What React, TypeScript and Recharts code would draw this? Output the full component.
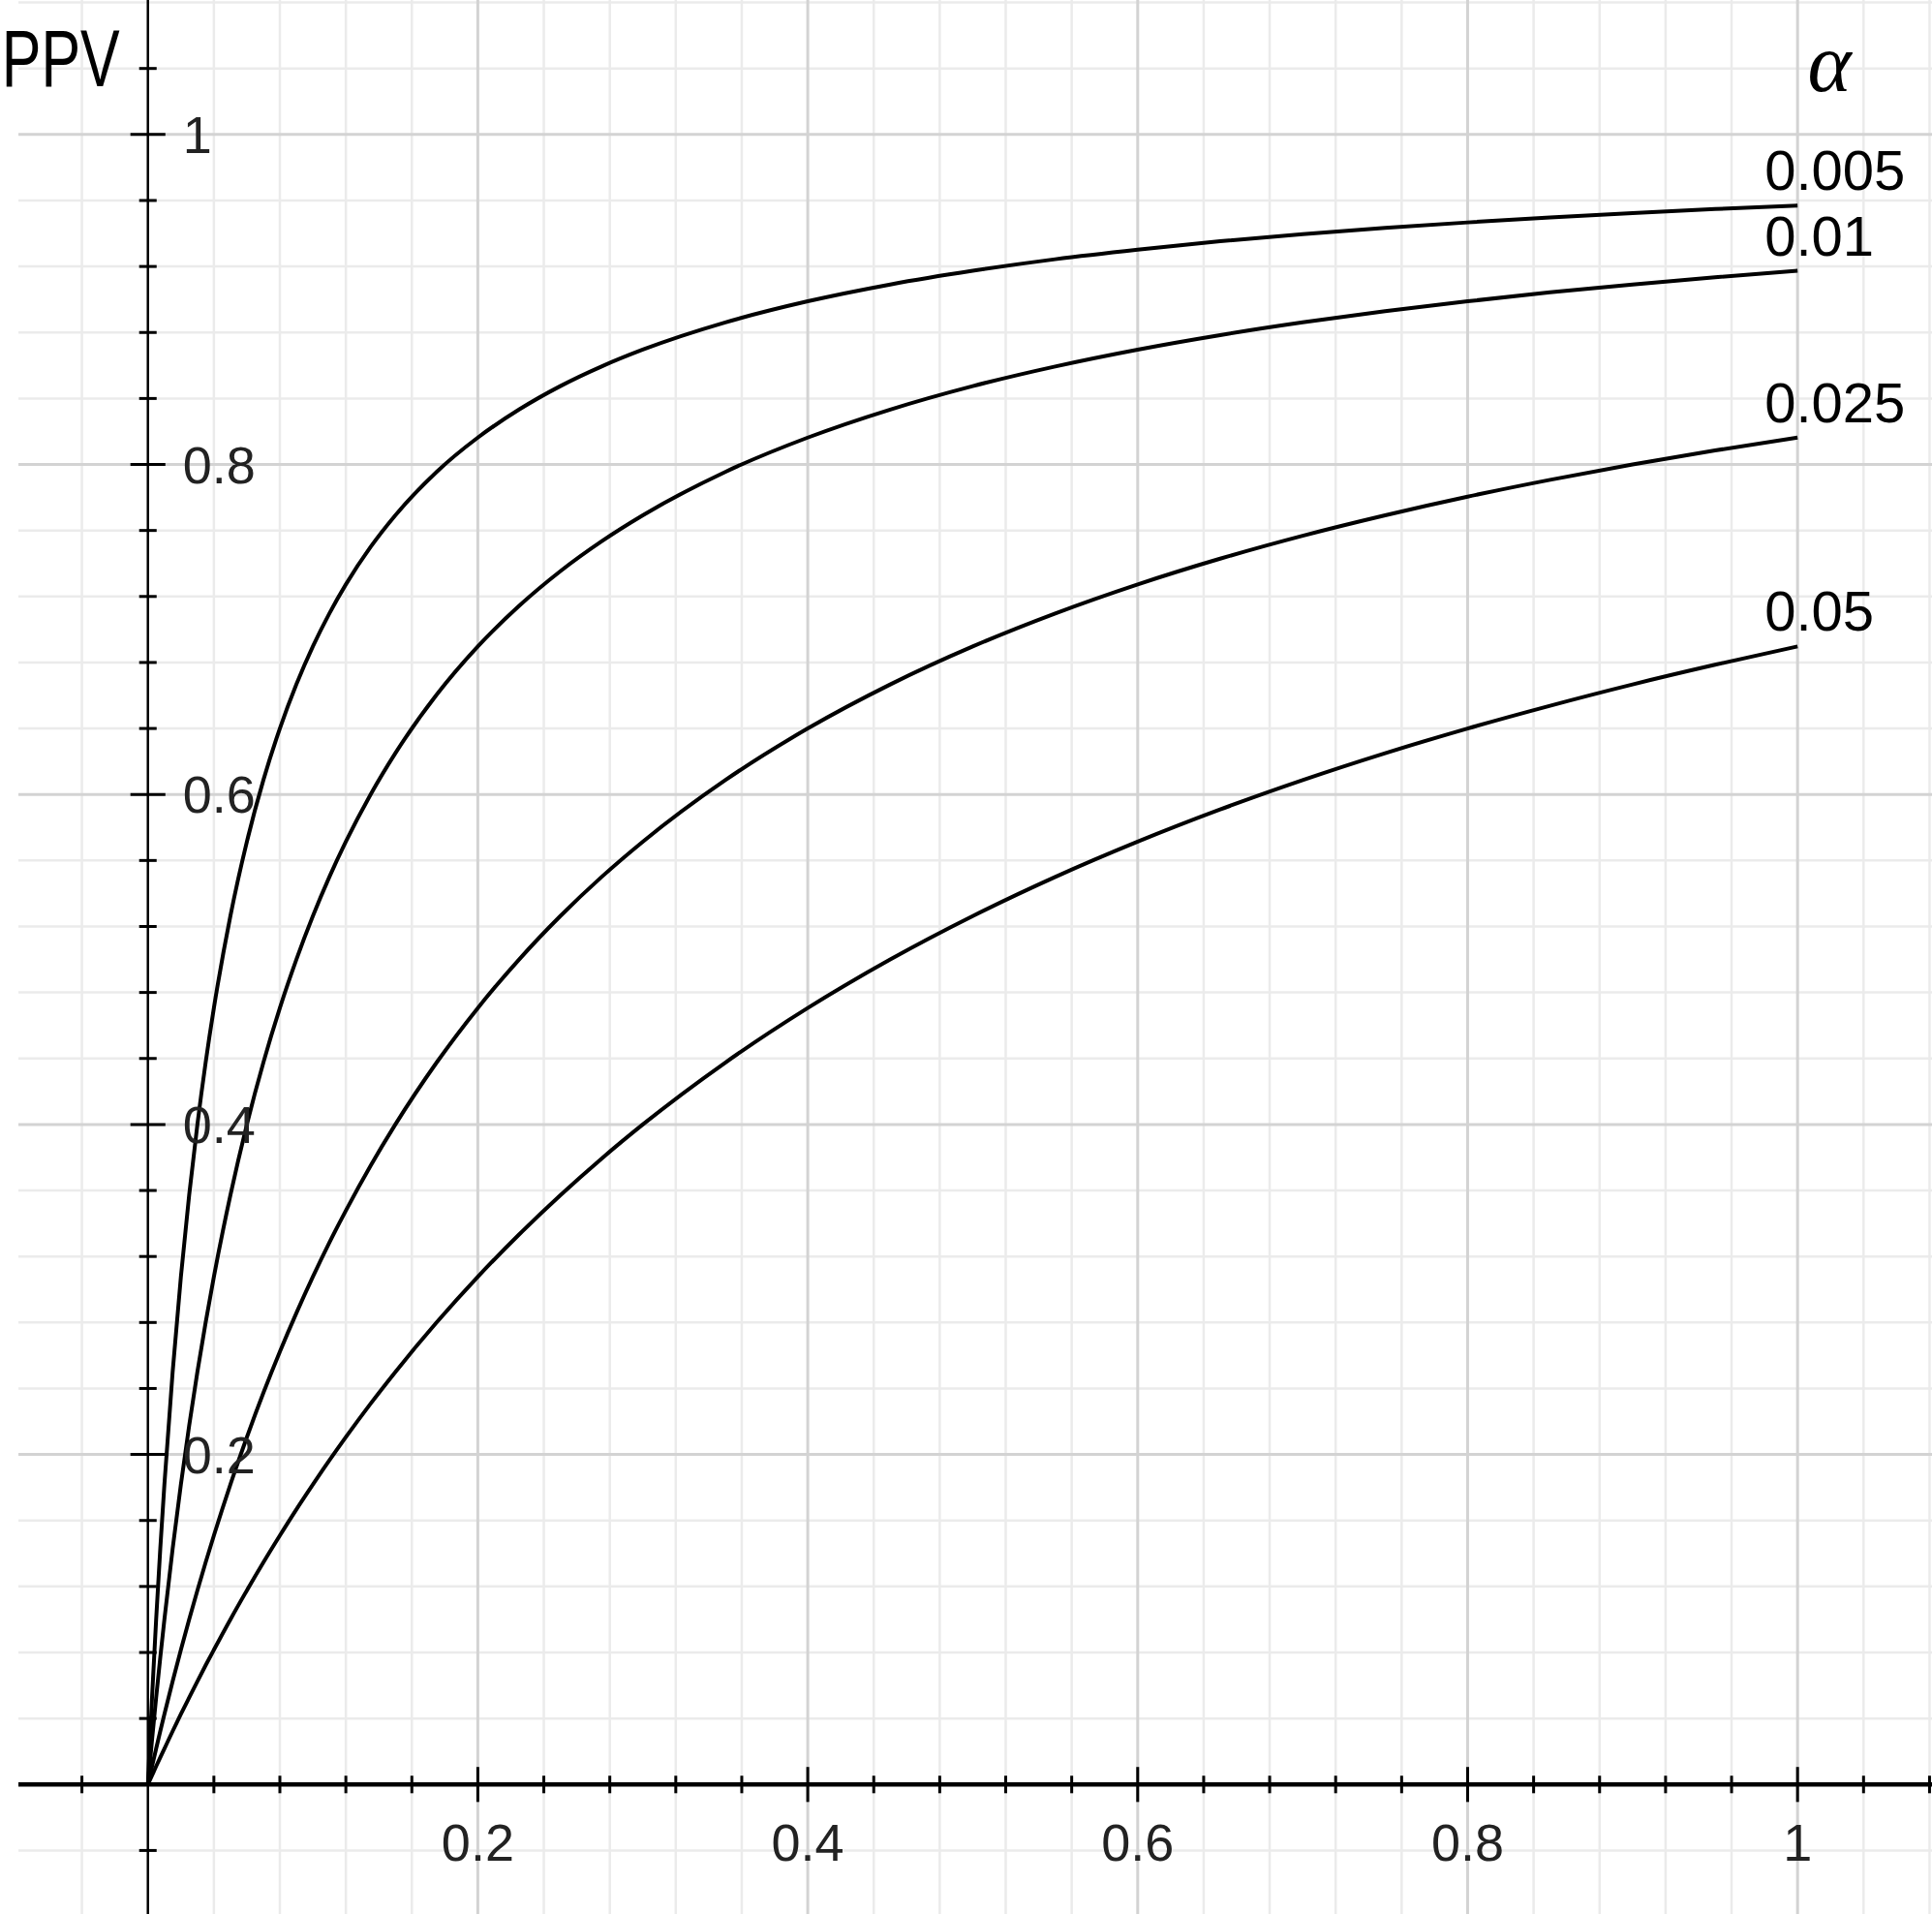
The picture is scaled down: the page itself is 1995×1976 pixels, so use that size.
import React from "react";
import { LineChart, Line, XAxis, YAxis, ReferenceLine, ReferenceDot } from "recharts";

const POWER = [
  0, 0.0025, 0.005, 0.0075, 0.01, 0.015, 0.02, 0.025, 0.03, 0.035, 0.04, 0.05, 0.06, 0.07, 0.08, 0.09, 0.1, 0.11,
  0.12, 0.135, 0.15, 0.175, 0.2, 0.225, 0.25, 0.275, 0.3, 0.35, 0.4, 0.45, 0.5, 0.55, 0.6, 0.65, 0.7, 0.75, 0.8,
  0.85, 0.9, 0.95, 1,
];

// PPV for each alpha level
const PPV_A005 = [
  0, 0.0526, 0.1, 0.1429, 0.1818, 0.25, 0.3077, 0.3571, 0.4, 0.4375, 0.4706, 0.5263, 0.5714, 0.6087, 0.64, 0.6667,
  0.6897, 0.7097, 0.7273, 0.75, 0.7692, 0.7955, 0.8163, 0.8333, 0.8475, 0.8594, 0.8696, 0.8861, 0.8989, 0.9091,
  0.9174, 0.9244, 0.9302, 0.9353, 0.9396, 0.9434, 0.9467, 0.9497, 0.9524, 0.9548, 0.9569,
];
const PPV_A01 = [
  0, 0.027, 0.0526, 0.0769, 0.1, 0.1429, 0.1818, 0.2174, 0.25, 0.28, 0.3077, 0.3571, 0.4, 0.4375, 0.4706, 0.5,
  0.5263, 0.55, 0.5714, 0.6, 0.625, 0.6604, 0.6897, 0.7143, 0.7353, 0.7534, 0.7692, 0.7955, 0.8163, 0.8333, 0.8475,
  0.8594, 0.8696, 0.8784, 0.8861, 0.8929, 0.8989, 0.9043, 0.9091, 0.9135, 0.9174,
];
const PPV_A025 = [
  0, 0.011, 0.0217, 0.0323, 0.0426, 0.0625, 0.0816, 0.1, 0.1176, 0.1346, 0.1509, 0.1818, 0.2105, 0.2373, 0.2623,
  0.2857, 0.3077, 0.3284, 0.3478, 0.375, 0.4, 0.4375, 0.4706, 0.5, 0.5263, 0.55, 0.5714, 0.6087, 0.64, 0.6667,
  0.6897, 0.7097, 0.7273, 0.7429, 0.7568, 0.7692, 0.7805, 0.7907, 0.8, 0.8085, 0.8163,
];
const PPV_A05 = [
  0, 0.0055, 0.011, 0.0164, 0.0217, 0.0323, 0.0426, 0.0526, 0.0625, 0.0722, 0.0816, 0.1, 0.1176, 0.1346, 0.1509,
  0.1667, 0.1818, 0.1964, 0.2105, 0.2308, 0.25, 0.28, 0.3077, 0.3333, 0.3571, 0.3793, 0.4, 0.4375, 0.4706, 0.5,
  0.5263, 0.55, 0.5714, 0.5909, 0.6087, 0.625, 0.64, 0.6538, 0.6667, 0.6786, 0.6897,
];

const ALPHA_LABELS = ["0.005", "0.01", "0.025", "0.05"];
const SERIES = [PPV_A005, PPV_A01, PPV_A025, PPV_A05];

const X_TICKS = [0.2, 0.4, 0.6, 0.8, 1];
const X_TICK_LABELS = ["0.2", "0.4", "0.6", "0.8", "1"];
const Y_TICKS = [0.2, 0.4, 0.6, 0.8, 1];
const Y_TICK_LABELS = ["0.2", "0.4", "0.6", "0.8", "1"];

const DOMAIN: [number, number] = [-0.0785, 1.0815];
const GRID_STEP = 0.04;
const MINOR_LEN = 0.0053;
const MAJOR_LEN = 0.0106;

const FONT = "'Liberation Sans', Arial, sans-serif";

const gridValues: number[] = [];
for (let i = -1; i <= 27; i++) gridValues.push(Math.round(i * GRID_STEP * 100) / 100);
const isMajor = (v: number) => Math.abs(v / 0.2 - Math.round(v / 0.2)) < 1e-6;

export default function App() {
  const W = 1995;
  const H = 1976;

  return (
    <div style={{ position: "absolute", left: 0, top: 0, width: W, height: H, background: "#fff" }}>
      <LineChart width={W} height={H} margin={{ top: 0, right: 0, bottom: 0, left: 19 }}>
        <XAxis type="number" dataKey="x" domain={DOMAIN} allowDataOverflow hide />
        <YAxis type="number" dataKey="y" domain={DOMAIN} allowDataOverflow hide />

        {/* minor grid */}
        {gridValues.filter((v) => !isMajor(v)).map((v) => (
          <ReferenceLine key={`gx${v}`} x={v} stroke="#ebebeb" strokeWidth={2.5} />
        ))}
        {gridValues.filter((v) => !isMajor(v)).map((v) => (
          <ReferenceLine key={`gy${v}`} y={v} stroke="#ebebeb" strokeWidth={2.5} />
        ))}
        {/* major grid */}
        {gridValues.filter((v) => isMajor(v) && v !== 0).map((v) => (
          <ReferenceLine key={`Gx${v}`} x={v} stroke="#d3d3d3" strokeWidth={3} />
        ))}
        {gridValues.filter((v) => isMajor(v) && v !== 0).map((v) => (
          <ReferenceLine key={`Gy${v}`} y={v} stroke="#d3d3d3" strokeWidth={3} />
        ))}

        {/* axes */}
        <ReferenceLine y={0} stroke="#000" strokeWidth={4.5} />
        <ReferenceLine x={0} stroke="#000" strokeWidth={2.5} />

        {/* ticks */}
        {gridValues.filter((v) => v !== 0).map((v) => {
          const len = isMajor(v) ? MAJOR_LEN : MINOR_LEN;
          return (
            <ReferenceLine
              key={`tx${v}`}
              segment={[{ x: v, y: -len }, { x: v, y: len }]}
              stroke="#000"
              strokeWidth={3}
            />
          );
        })}
        {gridValues.filter((v) => v !== 0 && v < 1.06).map((v) => {
          const len = isMajor(v) ? MAJOR_LEN : MINOR_LEN;
          return (
            <ReferenceLine
              key={`ty${v}`}
              segment={[{ x: -len, y: v }, { x: len, y: v }]}
              stroke="#000"
              strokeWidth={3}
            />
          );
        })}

        {SERIES.map((vals, si) => (
          <Line
            key={ALPHA_LABELS[si]}
            data={POWER.map((x, i) => ({ x, y: vals[i] }))}
            dataKey="y"
            type="monotone"
            stroke="#000"
            strokeWidth={4}
            dot={false}
            activeDot={false}
            isAnimationActive={false}
          />
        ))}

        {/* tick labels */}
        {X_TICKS.map((t, i) => (
          <ReferenceDot
            key={`lx${t}`}
            x={t}
            y={0}
            r={0}
            shape={(p: any) => (
              <text x={p.cx} y={p.cy + 79} textAnchor="middle" fontFamily={FONT} fontSize={54} fill="#222">
                {X_TICK_LABELS[i]}
              </text>
            )}
          />
        ))}
        {Y_TICKS.map((t, i) => (
          <ReferenceDot
            key={`ly${t}`}
            x={0}
            y={t}
            r={0}
            shape={(p: any) => (
              <text x={p.cx + 36} y={p.cy + 19} textAnchor="start" fontFamily={FONT} fontSize={54} fill="#222">
                {Y_TICK_LABELS[i]}
              </text>
            )}
          />
        ))}

        {/* curve labels */}
        {SERIES.map((vals, si) => (
          <ReferenceDot
            key={`cl${si}`}
            x={POWER[POWER.length - 1]}
            y={vals[vals.length - 1]}
            r={0}
            shape={(p: any) => (
              <text x={p.cx - 34} y={p.cy - 16} textAnchor="start" fontFamily={FONT} fontSize={58} fill="#000">
                {ALPHA_LABELS[si]}
              </text>
            )}
          />
        ))}

        {/* axis titles */}
        <ReferenceDot
          x={0}
          y={1}
          r={0}
          shape={(p: any) => (
            <text
              x={p.cx - 151}
              y={p.cy - 50}
              textAnchor="start"
              fontFamily={FONT}
              fontSize={84}
              textLength={122}
              lengthAdjust="spacingAndGlyphs"
              fill="#000"
            >
              PPV
            </text>
          )}
        />
        <ReferenceDot
          x={1}
          y={1}
          r={0}
          shape={(p: any) => (
            <text
              x={p.cx + 33}
              y={p.cy - 45}
              textAnchor="middle"
              fontFamily="'Liberation Serif', 'Times New Roman', serif"
              fontStyle="italic"
              fontSize={86}
              fill="#000"
            >
              α
            </text>
          )}
        />
      </LineChart>
    </div>
  );
}
